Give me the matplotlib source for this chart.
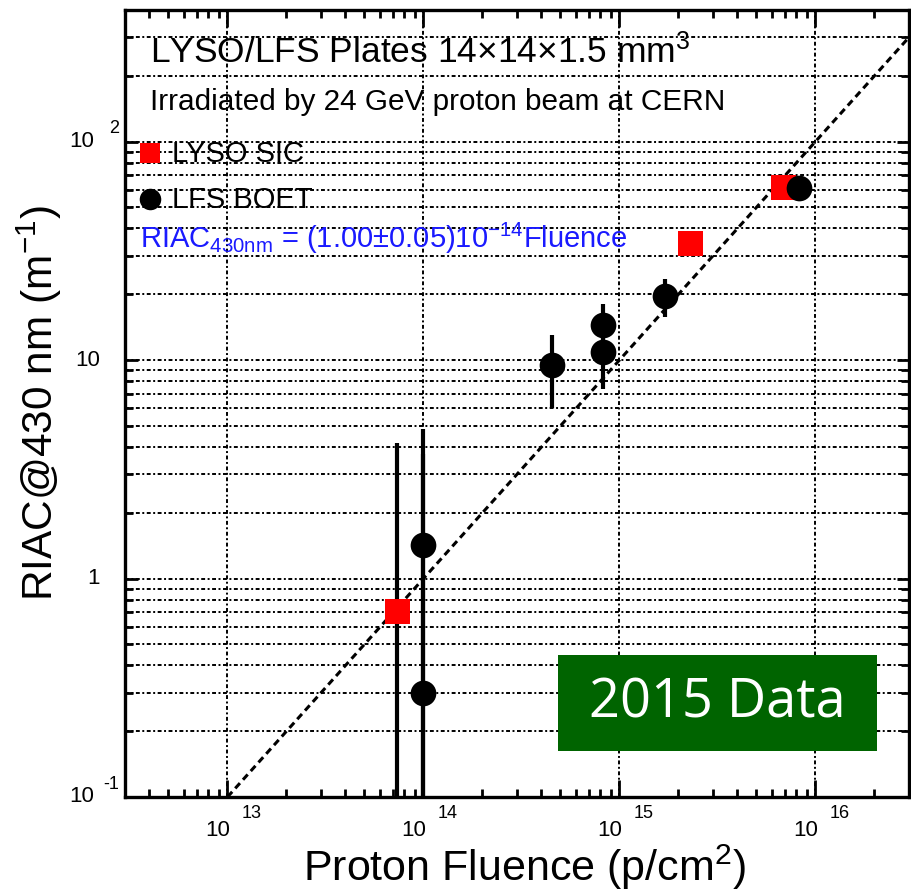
import numpy as np
import matplotlib
matplotlib.use("Agg")
import matplotlib.pyplot as plt
from matplotlib.patches import Rectangle
from matplotlib.ticker import LogLocator, NullFormatter

plt.rcParams['font.family'] = ['Liberation Sans', 'DejaVu Sans']
plt.rcParams['mathtext.fontset'] = 'custom'
plt.rcParams['mathtext.rm'] = 'Liberation Sans'
plt.rcParams['mathtext.it'] = 'Liberation Sans'
plt.rcParams['mathtext.bf'] = 'Liberation Sans:bold'

# LYSO plates from SIC
lyso_fluence = [7.35e13, 2.3e15, 6.85e15]
lyso_riac = [0.71, 34.3, 62.0]
lyso_err = [3.45, 3.45, 3.45]

# LFS plates from BOET
lfs_fluence = [1.0e14, 1.0e14, 4.5e14, 8.2e14, 8.2e14, 1.7e15, 8.2e15]
lfs_riac = [1.43, 0.30, 9.5, 14.5, 10.9, 19.6, 61.0]
lfs_err = [3.4, 3.4, 3.5, 3.6, 3.5, 3.8, 3.5]

# linear fit RIAC = 1e-14 * fluence
fit_slope = 1.0e-14
fit_range = [1e13, 3e16]

x_exponents = [13, 14, 15, 16]
y_majors = [0.1, 1, 10, 100]
y_labels = [('10', '-1'), ('1', ''), ('10', ''), ('10', '2')]

fig = plt.figure(figsize=(9.12, 8.94), dpi=100)
ax = fig.add_axes([125 / 912, 1 - 797 / 894, 784 / 912, 787 / 894])
ax.set_xscale('log')
ax.set_yscale('log')
ax.set_xlim(3e12, 3e16)
ax.set_ylim(0.1, 400)

grid_style = dict(color='black', linestyle=(0, (2.0, 1.3, 1.0, 1.3)), linewidth=1.4)
ax.grid(True, which='both', axis='y', **grid_style)
ax.grid(True, which='major', axis='x', **grid_style)
ax.set_axisbelow(True)

ax.xaxis.set_major_locator(LogLocator(base=10, numticks=10))
ax.xaxis.set_minor_locator(LogLocator(base=10, subs=np.arange(2, 10), numticks=20))
ax.yaxis.set_minor_locator(LogLocator(base=10, subs=np.arange(2, 10), numticks=20))
ax.xaxis.set_major_formatter(NullFormatter())
ax.xaxis.set_minor_formatter(NullFormatter())
ax.yaxis.set_major_formatter(NullFormatter())
ax.yaxis.set_minor_formatter(NullFormatter())
ax.tick_params(axis='x', which='major', direction='in', length=12, width=2, top=True)
ax.tick_params(axis='x', which='minor', direction='in', length=5.5, width=2, top=True)
ax.tick_params(axis='y', which='major', direction='in', length=9, width=2, right=True)
ax.tick_params(axis='y', which='minor', direction='in', length=6, width=2, right=True)
for sp in ax.spines.values():
    sp.set_linewidth(2.4)

# ROOT-like "10 ^n" tick labels
for e in x_exponents:
    ax.annotate('10', xy=(10.0 ** e, 0), xycoords=('data', 'axes fraction'),
                xytext=(2, -28), textcoords='offset points',
                ha='right', va='baseline', fontsize=16)
    ax.annotate(str(e), xy=(10.0 ** e, 0), xycoords=('data', 'axes fraction'),
                xytext=(10, -15), textcoords='offset points',
                ha='left', va='baseline', fontsize=13)
for val, (base, exp) in zip(y_majors, y_labels):
    if exp:
        ax.annotate(base, xy=(0, val), xycoords=('axes fraction', 'data'),
                    xytext=(-22, 0), textcoords='offset points',
                    ha='right', va='center', fontsize=16)
        ax.annotate(exp, xy=(0, val), xycoords=('axes fraction', 'data'),
                    xytext=(-4, 6), textcoords='offset points',
                    ha='right', va='baseline', fontsize=13)
    else:
        ax.annotate(base, xy=(0, val), xycoords=('axes fraction', 'data'),
                    xytext=(-18, 0), textcoords='offset points',
                    ha='right', va='center', fontsize=16)

fx = np.array(fit_range)
ax.plot(fx, fit_slope * fx, color='black', linestyle=(0, (2.3, 1.5)), linewidth=2.2, zorder=3)

ax.errorbar(lyso_fluence, lyso_riac, yerr=lyso_err, fmt='s', color='red', ecolor='black',
            elinewidth=3, capsize=0, markersize=18, markeredgewidth=0, zorder=4)
ax.errorbar(lfs_fluence, lfs_riac, yerr=lfs_err, fmt='o', color='black', ecolor='black',
            elinewidth=3, capsize=0, markersize=18.5, markeredgewidth=0, zorder=5)

ax.set_xlabel('Proton Fluence (p/cm$^{2}$)', fontsize=31)
ax.xaxis.set_label_coords(0.51, -0.058)
ax.set_ylabel('RIAC@430 nm (m$^{-1}$)', fontsize=30.5)
ax.yaxis.set_label_coords(-0.078, 0.5)

ax.text(150 / 912, 1 - 63 / 894, 'LYSO/LFS Plates 14\u00d714\u00d71.5 mm$^{3}$',
        transform=fig.transFigure, fontsize=25.5, va='baseline')
ax.text(150 / 912, 1 - 110 / 894, 'Irradiated by 24 GeV proton beam at CERN',
        transform=fig.transFigure, fontsize=21.4, va='baseline')

# legend entries
ax.plot([150 / 912], [1 - 153 / 894], 's', color='red', markersize=15, markeredgewidth=0,
        transform=fig.transFigure, clip_on=False)
ax.text(172 / 912, 1 - 162 / 894, 'LYSO SIC', transform=fig.transFigure,
        fontsize=21, va='baseline')
ax.plot([150 / 912], [1 - 199 / 894], 'o', color='black', markersize=15.5, markeredgewidth=0,
        transform=fig.transFigure, clip_on=False)
ax.text(172 / 912, 1 - 208 / 894, 'LFS BOET', transform=fig.transFigure,
        fontsize=21, va='baseline')

ax.text(140 / 912, 1 - 248 / 894,
        r'RIAC$_{\mathregular{430nm}}$ = (1.00$\pm$0.05)10$^{\mathregular{-14}}$Fluence',
        transform=fig.transFigure, fontsize=21, color='#1a1aff', va='baseline')

# "2015 Data" tag
fig.patches.append(Rectangle((558 / 912, 1 - 751 / 894), 319 / 912, 96 / 894,
                             transform=fig.transFigure, facecolor='#006400',
                             edgecolor='none', zorder=10))
fig.text(717 / 912, 1 - 703 / 894, '2015 Data', family='Open Sans', fontsize=39,
         color='white', ha='center', va='center', zorder=11)

fig.savefig('out.png', dpi=100)
